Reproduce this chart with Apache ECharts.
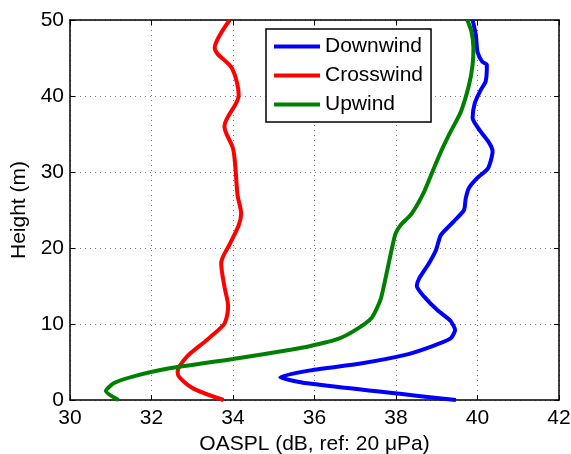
<!DOCTYPE html>
<html>
<head>
<meta charset="utf-8">
<script src="https://cdn.jsdelivr.net/npm/echarts@6/dist/echarts.min.js"></script>
<style>html,body{margin:0;padding:0;background:#fff}#c{width:571px;height:454px}</style>
</head>
<body>
<div id="c"></div>
<script>
var xTicks = [30, 32, 34, 36, 38, 40, 42];
var yTicks = [0, 10, 20, 30, 40, 50];

var downHeight = [0, 2.2, 3.0, 3.9, 4.8, 5.9, 7.0, 8.1, 9.2, 10.4, 11.8, 13.6, 15.0, 16.0, 18.0, 19.7, 21.7, 23.5, 25.0, 26.5, 27.9, 29.2, 30.5, 32.7, 33.8, 35.3, 37.1, 39.0, 40.8, 41.9, 44.1, 44.5, 45.8, 48.0, 50];
var downValue  = [39.47, 35.82, 35.16, 35.9, 37.13, 38.2, 38.85, 39.34, 39.45, 39.34, 39.02, 38.69, 38.51, 38.57, 38.81, 38.98, 39.1, 39.42, 39.67, 39.71, 39.79, 39.99, 40.26, 40.37, 40.29, 40.08, 39.88, 39.93, 40.08, 40.2, 40.23, 40.12, 40.0, 39.96, 39.88];

var crossHeight = [0, 1.5, 2.9, 3.7, 5.7, 7.9, 9.9, 11.0, 12.3, 14.9, 18.0, 20.6, 23.0, 24.5, 27.0, 30.5, 33.1, 36.0, 40.1, 43.6, 46.3, 50];
var crossValue  = [33.77, 33.03, 32.70, 32.64, 32.87, 33.36, 33.77, 33.85, 33.88, 33.79, 33.71, 33.93, 34.14, 34.2, 34.11, 34.06, 34.0, 33.79, 34.14, 33.98, 33.55, 33.92];

var upHeight = [0, 1.2, 2.2, 3.1, 4.1, 5.4, 6.6, 7.1, 8.0, 9.2, 10.8, 13.2, 16.2, 18.2, 20.2, 21.9, 23.0, 24.5, 27.4, 30.5, 33.1, 35.3, 37.9, 41.4, 44.1, 46.3, 48.5, 50];
var upValue  = [31.19, 30.88, 31.07, 31.56, 32.38, 34.0, 35.41, 35.9, 36.56, 37.0, 37.4, 37.62, 37.75, 37.83, 37.91, 37.99, 38.11, 38.38, 38.69, 38.93, 39.14, 39.34, 39.59, 39.79, 39.88, 39.9, 39.85, 39.75];

function pairs(vals, hs) { return vals.map(function (v, i) { return [v, hs[i]]; }); }

var font = 'Liberation Sans, Arial, Helvetica, sans-serif';
var chart = echarts.init(document.getElementById('c'));
var gridLine = { show: true, lineStyle: { color: '#777', type: [1, 4], width: 1 } };
chart.setOption({
  animation: false,
  grid: { left: 70, right: 12, top: 20, bottom: 54, show: false, containLabel: false, outerBoundsMode: 'none' },
  legend: {
    orient: 'vertical', left: 266, top: 29,
    data: ['Downwind', 'Crosswind', 'Upwind'],
    icon: 'rect', itemWidth: 46, itemHeight: 4, itemGap: 8, itemTextGap: 5,
    padding: [7, 8, 7, 8],
    borderColor: '#000', borderWidth: 1.5, backgroundColor: '#fff',
    textStyle: { fontFamily: font, fontSize: 21, lineHeight: 21, color: '#000' }
  },
  xAxis: [{
    type: 'value', min: 30, max: 42, interval: 2,
    name: 'OASPL (dB, ref: 20 μPa)', nameLocation: 'middle', nameGap: 26,
    nameTextStyle: { fontFamily: font, fontSize: 21, color: '#000' },
    axisLine: { show: true, onZero: false, lineStyle: { color: '#000', width: 1.5 } },
    axisTick: { show: true, inside: true, length: 5, lineStyle: { color: '#000' } },
    axisLabel: { fontFamily: font, fontSize: 21, color: '#000', margin: 8 },
    splitLine: gridLine
  }, {
    type: 'value', min: 30, max: 42, interval: 2, position: 'top',
    axisLine: { show: true, onZero: false, lineStyle: { color: '#000', width: 1.5 } },
    axisTick: { show: true, inside: true, length: 5, lineStyle: { color: '#000' } },
    axisLabel: { show: false }, splitLine: { show: false }
  }],
  yAxis: [{
    type: 'value', min: 0, max: 50, interval: 10,
    name: 'Height (m)', nameLocation: 'middle', nameGap: 38,
    nameTextStyle: { fontFamily: font, fontSize: 21, color: '#000' },
    axisLine: { show: true, onZero: false, lineStyle: { color: '#000', width: 1.5 } },
    axisTick: { show: true, inside: true, length: 5, lineStyle: { color: '#000' } },
    axisLabel: { fontFamily: font, fontSize: 21, color: '#000', margin: 6 },
    splitLine: gridLine
  }, {
    type: 'value', min: 0, max: 50, interval: 10, position: 'right',
    axisLine: { show: true, onZero: false, lineStyle: { color: '#000', width: 1.5 } },
    axisTick: { show: true, inside: true, length: 5, lineStyle: { color: '#000' } },
    axisLabel: { show: false }, splitLine: { show: false }
  }],
  series: [
    { name: 'Downwind', type: 'line', data: pairs(downValue, downHeight), showSymbol: false, smooth: 0.2, color: '#0000ff', lineStyle: { width: 4 } },
    { name: 'Crosswind', type: 'line', data: pairs(crossValue, crossHeight), showSymbol: false, smooth: 0.3, color: '#ff0000', lineStyle: { width: 4 } },
    { name: 'Upwind', type: 'line', data: pairs(upValue, upHeight), showSymbol: false, smooth: 0.2, color: '#008000', lineStyle: { width: 4 } }
  ]
});
</script>
</body>
</html>
